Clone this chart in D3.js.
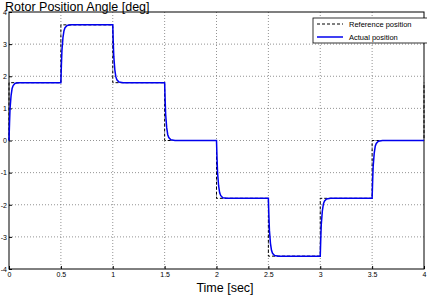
<!DOCTYPE html>
<html>
<head>
<meta charset="utf-8">
<script src="https://cdn.jsdelivr.net/npm/d3@7"></script>
<style>
  body { margin: 0; background: #fff; overflow: hidden; }
  text { font-family: "Liberation Sans", Arial, sans-serif; }
</style>
</head>
<body>
<div id="chart"></div>
<script>
var w = 427, h = 297;
var margin = { top: 12, right: 3, bottom: 28, left: 9 };
var width = w - margin.left - margin.right;
var height = h - margin.top - margin.bottom;

// reference position (step signal)
var refTime  = [0, 0, 0.5, 0.5, 1, 1, 1.5, 1.5, 2, 2, 2.5, 2.5, 3, 3, 3.5, 3.5, 4, 4];
var refAngle = [0, 1.8, 1.8, 3.6, 3.6, 1.8, 1.8, 0, 0, -1.8, -1.8, -3.6, -3.6, -1.8, -1.8, 0, 0, 1.8];

// actual position
var actTime = [
  0, 0.005, 0.01, 0.02, 0.03, 0.04, 0.06, 0.1,
  0.5, 0.505, 0.51, 0.52, 0.53, 0.54, 0.56, 0.6,
  1.0, 1.005, 1.01, 1.02, 1.03, 1.04, 1.06, 1.1,
  1.5, 1.505, 1.51, 1.52, 1.53, 1.54, 1.56, 1.6,
  2.0, 2.005, 2.01, 2.02, 2.03, 2.04, 2.06, 2.1,
  2.5, 2.505, 2.51, 2.52, 2.53, 2.54, 2.56, 2.6,
  3.0, 3.005, 3.01, 3.02, 3.03, 3.04, 3.06, 3.1,
  3.5, 3.505, 3.51, 3.52, 3.53, 3.54, 3.56, 3.6,
  4.0
];
var actAngle = [
  0, 0.54, 0.99, 1.40, 1.62, 1.71, 1.78, 1.8,
  1.8, 2.34, 2.79, 3.20, 3.42, 3.51, 3.58, 3.6,
  3.6, 3.06, 2.61, 2.20, 1.98, 1.89, 1.82, 1.8,
  1.8, 1.26, 0.81, 0.40, 0.18, 0.09, 0.02, 0,
  0, -0.54, -0.99, -1.40, -1.62, -1.71, -1.78, -1.8,
  -1.8, -2.34, -2.79, -3.20, -3.42, -3.51, -3.58, -3.6,
  -3.6, -3.06, -2.61, -2.20, -1.98, -1.89, -1.82, -1.8,
  -1.8, -1.26, -0.81, -0.40, -0.18, -0.09, -0.02, 0,
  0
];

var xTicks = [0, 0.5, 1, 1.5, 2, 2.5, 3, 3.5, 4];
var yTicks = [-4, -3, -2, -1, 0, 1, 2, 3, 4];
var seriesNames = ["Reference position", "Actual position"];

var svg = d3.select("#chart").append("svg")
  .attr("width", w)
  .attr("height", h);

var g = svg.append("g")
  .attr("transform", "translate(" + margin.left + "," + margin.top + ")");

var xScale = d3.scaleLinear().domain([0, 4]).range([0, width]);
var yScale = d3.scaleLinear().domain([-4, 4]).range([height, 0]);

// grid
g.append("g").selectAll("line").data(xTicks.slice(1, -1)).enter().append("line")
  .attr("x1", function(d) { return xScale(d); })
  .attr("x2", function(d) { return xScale(d); })
  .attr("y1", 0).attr("y2", height)
  .attr("stroke", "#777").attr("stroke-width", 0.8).attr("stroke-dasharray", "1,2");
g.append("g").selectAll("line").data(yTicks.slice(1, -1)).enter().append("line")
  .attr("y1", function(d) { return yScale(d); })
  .attr("y2", function(d) { return yScale(d); })
  .attr("x1", 0).attr("x2", width)
  .attr("stroke", "#777").attr("stroke-width", 0.8).attr("stroke-dasharray", "1,2");

// axes
var fmt = function(d) { return String(d); };
var xAxis = d3.axisBottom(xScale).tickValues(xTicks).tickFormat(fmt).tickSize(-3).tickPadding(3);
var yAxis = d3.axisLeft(yScale).tickValues(yTicks).tickFormat(fmt).tickSize(-3).tickPadding(2);

var gx = g.append("g").attr("transform", "translate(0," + height + ")").call(xAxis);
var gy = g.append("g").call(yAxis);
[gx, gy].forEach(function(a) {
  a.select(".domain").remove();
  a.selectAll("line").attr("stroke", "#000");
  a.selectAll("text").attr("font-size", 7).attr("fill", "#000")
    .style("font-family", "Liberation Sans, Arial, sans-serif");
});

// box
g.append("rect").attr("width", width).attr("height", height)
  .attr("fill", "none").attr("stroke", "#000").attr("stroke-width", 1);

var refLine = d3.line()
  .x(function(d, i) { return xScale(refTime[i]); })
  .y(function(d) { return yScale(d); });
var actLine = d3.line()
  .x(function(d, i) { return xScale(actTime[i]); })
  .y(function(d) { return yScale(d); });

g.append("path").datum(refAngle).attr("d", refLine)
  .attr("fill", "none").attr("stroke", "#000").attr("stroke-width", 1)
  .attr("stroke-dasharray", "3,2");
g.append("path").datum(actAngle).attr("d", actLine)
  .attr("fill", "none").attr("stroke", "#0000ee").attr("stroke-width", 1.5);

// legend
var lg = svg.append("g").attr("transform", "translate(313,18)");
lg.append("rect").attr("width", 120).attr("height", 25)
  .attr("fill", "#fff").attr("stroke", "#000").attr("stroke-width", 0.8);
var items = lg.selectAll("g.item").data(seriesNames).enter().append("g")
  .attr("transform", function(d, i) { return "translate(0," + (6 + i * 13) + ")"; });
items.append("line").attr("x1", 4).attr("x2", 30).attr("y1", 0).attr("y2", 0)
  .attr("stroke", function(d, i) { return i == 0 ? "#000" : "#0000ee"; })
  .attr("stroke-width", function(d, i) { return i == 0 ? 1 : 1.5; })
  .attr("stroke-dasharray", function(d, i) { return i == 0 ? "3,2" : null; });
items.append("text").attr("x", 36).attr("y", 2.5)
  .attr("font-size", 7.5).text(function(d) { return d; });

// titles
svg.append("text").attr("x", 5).attr("y", 10.5).attr("font-size", 12.5)
  .text("Rotor Position Angle [deg]");
svg.append("text").attr("x", 225).attr("y", 292).attr("font-size", 12.5)
  .attr("text-anchor", "middle").text("Time [sec]");
</script>
</body>
</html>
